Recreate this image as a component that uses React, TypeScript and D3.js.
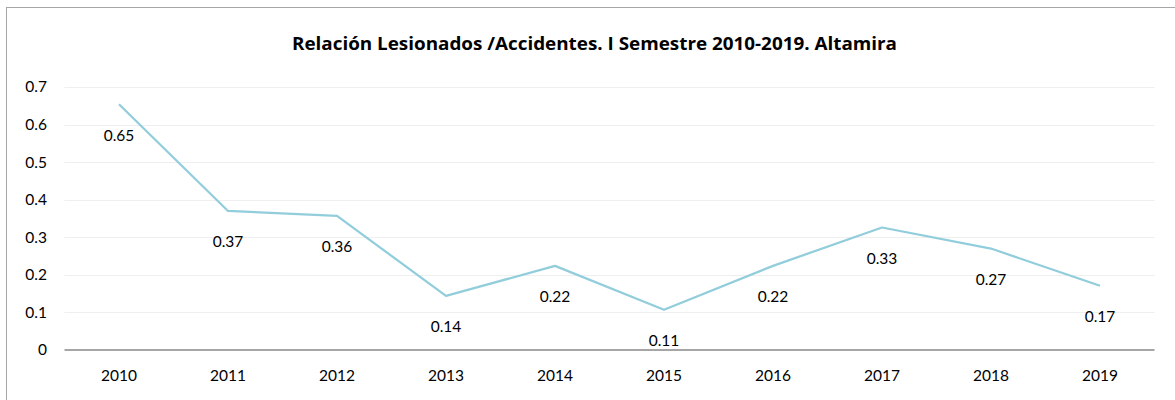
import React from "react";
import * as d3 from "d3";

const years = ["2010", "2011", "2012", "2013", "2014", "2015", "2016", "2017", "2018", "2019"];
const ratio = [0.654, 0.37, 0.357, 0.144, 0.224, 0.107, 0.224, 0.326, 0.27, 0.171];
const ratioLabels = ["0.65", "0.37", "0.36", "0.14", "0.22", "0.11", "0.22", "0.33", "0.27", "0.17"];
const yTicks = [0, 0.1, 0.2, 0.3, 0.4, 0.5, 0.6, 0.7];

const title = "Relación Lesionados /Accidentes. I Semestre 2010-2019. Altamira";

const W = 1175;
const H = 400;
const font = "Lato, 'Open Sans', sans-serif";

export default function App() {
  const x = d3.scaleBand().domain(years).range([64.5, 1154.5]);
  const y = d3.scaleLinear().domain([0, 0.7]).range([350, 87]);

  const line = d3
    .line<number>()
    .x((_, i) => (x(years[i]) as number) + x.bandwidth() / 2)
    .y((d) => y(d));

  return (
    <svg width={W} height={H} style={{ position: "absolute", left: 0, top: 0, background: "#fff" }}>
      <rect x={6.5} y={7.5} width={W + 10} height={H + 10} fill="#fff" stroke="#a6a6a6" strokeWidth={1} />
      <text x={594.5} y={50} textAnchor="middle" fontFamily="'Open Sans', sans-serif" fontWeight="bold" fontSize={17.5} textLength={605} lengthAdjust="spacingAndGlyphs" fill="#000">
        {title}
      </text>
      {yTicks.map((t) =>
        t === 0 ? null : (
          <line key={"g" + t} x1={64.5} x2={1154.5} y1={Math.round(y(t)) + 0.5} y2={Math.round(y(t)) + 0.5} stroke="#efefef" strokeWidth={1} />
        )
      )}
      {yTicks.map((t) => (
        <text key={"t" + t} x={47} y={y(t)} dy="0.35em" textAnchor="end" fontFamily={font} fontSize={15.5} fill="#000">
          {t === 0 ? "0" : d3.format(".1f")(t)}
        </text>
      ))}
      <line x1={64.5} x2={1154.5} y1={350} y2={350} stroke="#a6a6a6" strokeWidth={2} />
      {years.map((yr) => (
        <text key={yr} x={(x(yr) as number) + x.bandwidth() / 2} y={376} dy="0.35em" textAnchor="middle" fontFamily={font} fontSize={15.5} fill="#000">
          {yr}
        </text>
      ))}
      <path d={line(ratio) as string} fill="none" stroke="#92cddc" strokeWidth={2.25} strokeLinejoin="round" />
      {ratio.map((v, i) => (
        <text key={"l" + i} x={(x(years[i]) as number) + x.bandwidth() / 2} y={y(v) + 31} dy="0.35em" textAnchor="middle" fontFamily={font} fontSize={15.5} fill="#000">
          {ratioLabels[i]}
        </text>
      ))}
    </svg>
  );
}
